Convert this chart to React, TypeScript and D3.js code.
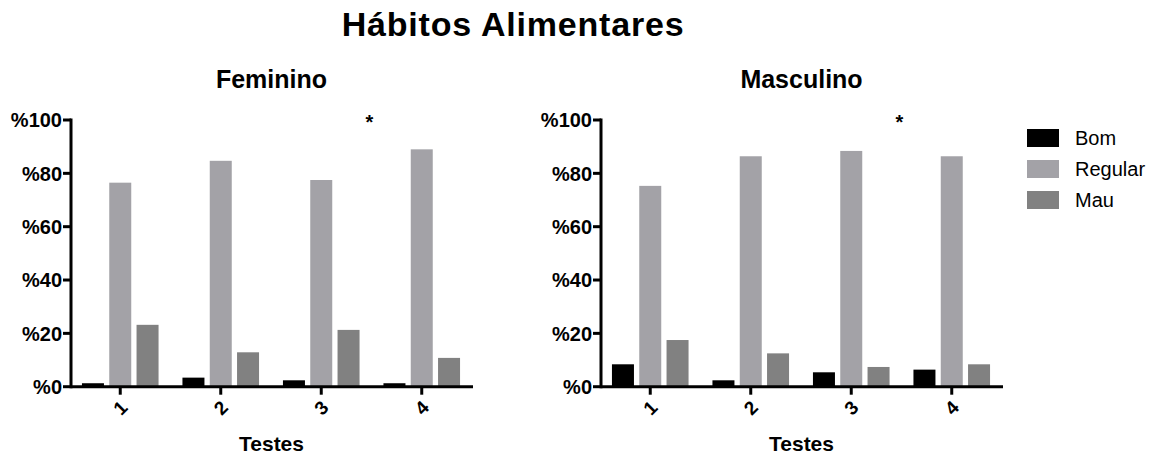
import React from "react";
import * as d3 from "d3";

// Tests (x categories) and rating series
const tests = ["1", "2", "3", "4"];
const series = ["Bom", "Regular", "Mau"];
const seriesColors = ["#000000", "#a3a2a7", "#818181"];

// Percentages per test, female group
const femBom = [1.3, 3.4, 2.4, 1.3];
const femRegular = [76.5, 84.7, 77.5, 89.0];
const femMau = [23.2, 12.9, 21.3, 10.8];

// Percentages per test, male group
const mascBom = [8.4, 2.4, 5.4, 6.4];
const mascRegular = [75.3, 86.4, 88.4, 86.4];
const mascMau = [17.5, 12.5, 7.4, 8.4];

const yTicks = [0, 20, 40, 60, 80, 100];

const W = 1157;
const H = 458;
const FONT = "'Liberation Sans', Arial, Helvetica, sans-serif";

type PanelProps = {
  title: string;
  x0: number;
  values: number[][];
};

function Panel({ title, x0, values }: PanelProps) {
  const y = d3.scaleLinear().domain([0, 100]).range([386.7, 120]);
  const x = d3.scaleBand<string>().domain(tests).range([x0, x0 + 402]);
  const inner = d3
    .scaleBand<string>()
    .domain(series)
    .range([-38.3, 38.3])
    .paddingInner(0.194)
    .paddingOuter(0);
  const cx = (t: string) => (x(t) as number) + x.bandwidth() / 2;
  const axisX = x0 + 1;
  const yBase = y(0);
  const midX = (x0 + x0 + 403) / 2;
  const starX = (cx("3") + cx("4")) / 2 - 2;

  return (
    <g>
      <text
        x={midX}
        y={88}
        textAnchor="middle"
        fontFamily={FONT}
        fontWeight="bold"
        fontSize={25}
        fill="#000"
      >
        {title}
      </text>

      {/* bars */}
      {tests.map((t, i) =>
        series.map((s, j) => {
          const v = values[j][i];
          return (
            <rect
              key={t + s}
              x={cx(t) + (inner(s) as number)}
              y={y(v)}
              width={inner.bandwidth()}
              height={yBase - y(v)}
              fill={seriesColors[j]}
            />
          );
        })
      )}

      {/* y axis */}
      <line x1={axisX} x2={axisX} y1={y(100) - 1.5} y2={yBase + 1.5} stroke="#000" strokeWidth={3} />
      {yTicks.map((t) => (
        <g key={t}>
          <line x1={axisX - 8} x2={axisX} y1={y(t)} y2={y(t)} stroke="#000" strokeWidth={3} />
          <text
            x={axisX - 9}
            y={y(t)}
            dy="0.36em"
            textAnchor="end"
            fontFamily={FONT}
            fontWeight="bold"
            fontSize={20}
            fill="#000"
          >
            {"%" + t}
          </text>
        </g>
      ))}

      {/* x axis */}
      <line x1={axisX} x2={x0 + 403} y1={yBase} y2={yBase} stroke="#000" strokeWidth={3} />
      {tests.map((t) => (
        <g key={t}>
          <line x1={cx(t)} x2={cx(t)} y1={yBase} y2={yBase + 8} stroke="#000" strokeWidth={3} />
          <text
            transform={`translate(${cx(t)},${yBase + 21}) rotate(-45)`}
            textAnchor="middle"
            dy="0.36em"
            fontFamily={FONT}
            fontWeight="bold"
            fontSize={19}
            fill="#000"
          >
            {t}
          </text>
        </g>
      ))}

      <text
        x={midX}
        y={451}
        textAnchor="middle"
        fontFamily={FONT}
        fontWeight="bold"
        fontSize={21}
        fill="#000"
      >
        Testes
      </text>

      <text
        x={starX}
        y={y(100) + 9}
        textAnchor="middle"
        fontFamily={FONT}
        fontWeight="bold"
        fontSize={20}
        fill="#000"
      >
        *
      </text>
    </g>
  );
}

export default function App() {
  const legendY = d3.scalePoint<string>().domain(series).range([138, 200]);
  return (
    <div style={{ position: "absolute", left: 0, top: 0 }}>
      <svg width={W} height={H} viewBox={`0 0 ${W} ${H}`} style={{ display: "block", background: "#fff" }}>
        <rect width={W} height={H} fill="#fff" />
        <text
          x={513}
          y={36}
          textAnchor="middle"
          fontFamily={FONT}
          fontWeight="bold"
          fontSize={34}
          letterSpacing={0.8}
          fill="#000"
        >
          Hábitos Alimentares
        </text>

        <Panel title="Feminino" x0={70} values={[femBom, femRegular, femMau]} />
        <Panel title="Masculino" x0={600} values={[mascBom, mascRegular, mascMau]} />

        {series.map((s, j) => (
          <g key={s}>
            <rect x={1027} y={(legendY(s) as number) - 9} width={32} height={18} fill={seriesColors[j]} />
            <text
              x={1075}
              y={legendY(s) as number}
              dy="0.36em"
              fontFamily={FONT}
              fontSize={20}
              fill="#000"
            >
              {s}
            </text>
          </g>
        ))}
      </svg>
    </div>
  );
}
